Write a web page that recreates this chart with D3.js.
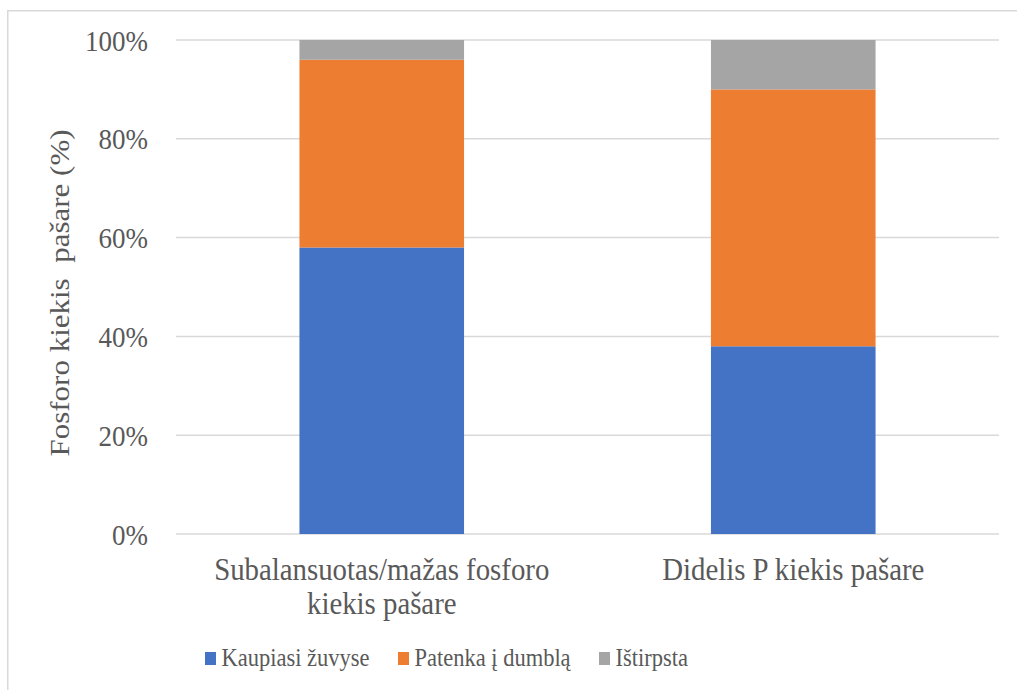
<!DOCTYPE html>
<html><head><meta charset="utf-8">
<script src="https://cdn.jsdelivr.net/npm/d3@7"></script>
<style>body{margin:0;background:#fff}svg{display:block}text{font-family:"Liberation Serif","Times New Roman",serif;fill:#595959}</style>
</head><body>
<script>
const categories = [["Subalansuotas/mažas fosforo","kiekis pašare"],["Didelis P kiekis pašare"]];
const seriesNames = ["Kaupiasi žuvyse","Patenka į dumblą","Ištirpsta"];
const kaupiasi = [58, 38];
const patenka = [38, 52];
const istirpsta = [4, 10];
const colors = ["#4472c4","#ed7d31","#a5a5a5"];
const yTicks = [0,20,40,60,80,100];

const W=1017,H=690, SX=0.9;
const svg=d3.select("body").append("svg").attr("width",W).attr("height",H);
svg.append("rect").attr("x",7.75).attr("y",10.75).attr("width",W).attr("height",H).attr("fill","none").attr("stroke","#d9d9d9").attr("stroke-width",1.5);

const x=d3.scaleBand().domain([0,1]).range([176,999]).paddingInner(0.6).paddingOuter(0.3);
const y=d3.scaleLinear().domain([0,100]).range([534,40]);

// gridlines
svg.append("g").selectAll("line").data(yTicks).join("line")
  .attr("x1",176).attr("x2",999).attr("y1",d=>y(d)).attr("y2",d=>y(d))
  .attr("stroke","#d9d9d9").attr("stroke-width",1.5);

// stacked bars
const rows=[0,1].map(i=>({i,a:kaupiasi[i],b:patenka[i],c:istirpsta[i]}));
const stack=d3.stack().keys(["a","b","c"])(rows);
stack.forEach((s,k)=>{
  svg.append("g").attr("fill",colors[k]).selectAll("rect").data(s).join("rect")
    .attr("x",d=>x(d.data.i)).attr("width",x.bandwidth())
    .attr("y",d=>y(d[1])).attr("height",d=>y(d[0])-y(d[1]));
});

// horizontally compressed text helper
function htext(px,py,str,size,anchor){
  return svg.append("text").attr("transform",`translate(${px},${py}) scale(${SX},1)`)
    .attr("text-anchor",anchor||"start").attr("font-size",size).text(str);
}

// y tick labels
yTicks.forEach(d=>htext(148,y(d)+10.5,d+"%",30,"end"));

// x labels
categories.forEach((lines,i)=>{
  const cx=x(i)+x.bandwidth()/2;
  lines.forEach((l,j)=>htext(cx,580+j*34,l,32,"middle"));
});

// y title
svg.append("text").attr("transform","translate(69,293) rotate(-90) scale(1,0.9)").attr("text-anchor","middle")
  .attr("font-size",31).attr("xml:space","preserve").style("white-space","pre").text("Fosforo kiekis  pašare (%)");

// legend
const legX=[205,398,599];
seriesNames.forEach((n,k)=>{
  svg.append("rect").attr("x",legX[k]).attr("y",652).attr("width",11).attr("height",13).attr("fill",colors[k]);
  htext(legX[k]+16.5,666,n,25,"start");
});
</script>
</body></html>
